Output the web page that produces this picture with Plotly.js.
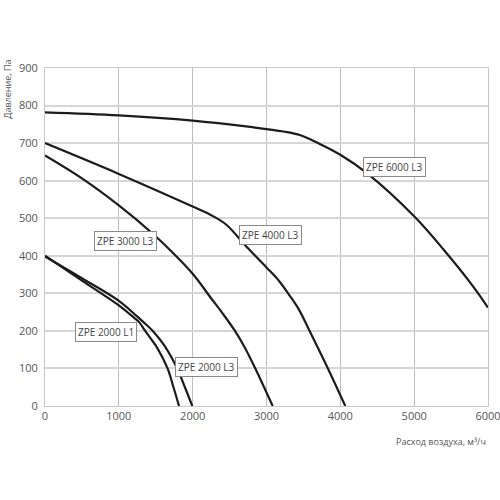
<!DOCTYPE html>
<html>
<head>
<meta charset="utf-8">
<script src="https://cdn.plot.ly/plotly-3.0.1.min.js"></script>
<style>html,body{margin:0;padding:0;background:#fff;}#chart{width:500px;height:500px;}</style>
</head>
<body>
<div id="chart"></div>
<script>
// Airflow (m³/h) and pressure (Pa) per fan model
const zpe6000L3_x = [0, 1000, 2000, 2780, 3230, 3460, 3700, 4000, 4360, 5000, 5400, 5800, 6000];
const zpe6000L3_y = [782, 774, 760, 743, 731, 721, 700, 669, 620, 505, 416, 318, 262];

const zpe4000L3_x = [0, 1000, 2000, 2280, 2460, 2730, 3000, 3170, 3300, 3430, 3584, 3832, 4067];
const zpe4000L3_y = [700, 618, 531, 505, 482, 424, 369, 333, 298, 260, 200, 100, 0];

const zpe3000L3_x = [0, 500, 1000, 1464, 1700, 2000, 2257, 2400, 2573, 2700, 2844, 3084];
const zpe3000L3_y = [667, 606, 534, 458, 414, 352, 285, 248, 200, 158, 102, 0];

const zpe2000L3_x = [0, 500, 1000, 1240, 1330, 1460, 1620, 1790, 1895, 1995];
const zpe2000L3_y = [398, 340, 280, 240, 224, 200, 160, 100, 50, 0];

const zpe2000L1_x = [0, 500, 1000, 1200, 1280, 1350, 1430, 1510, 1660, 1740, 1815];
const zpe2000L1_y = [400, 334, 268, 236, 222, 202, 180, 158, 100, 50, 0];

const labels = ["ZPE 6000 L3", "ZPE 4000 L3", "ZPE 3000 L3", "ZPE 2000 L1", "ZPE 2000 L3"];
const labelX = [4735, 3050, 1090, 825, 2190];
const labelY = [637, 455, 439, 198, 103];

const xTicks = [0, 1000, 2000, 3000, 4000, 5000, 6000];
const yTicks = [0, 100, 200, 300, 400, 500, 600, 700, 800, 900];

const series = [
  [zpe6000L3_x, zpe6000L3_y],
  [zpe4000L3_x, zpe4000L3_y],
  [zpe3000L3_x, zpe3000L3_y],
  [zpe2000L3_x, zpe2000L3_y],
  [zpe2000L1_x, zpe2000L1_y]
];

const traces = series.map(s => ({
  x: s[0], y: s[1], type: 'scatter', mode: 'lines',
  line: {color: '#1c1c1c', width: 2.2, shape: 'spline', smoothing: 1},
  hoverinfo: 'skip', showlegend: false
}));

const font = {family: 'Open Sans, DejaVu Sans, sans-serif', color: '#555', size: 11};

const annotations = labels.map((t, i) => ({
  x: labelX[i], y: labelY[i], xref: 'x', yref: 'y', text: t, showarrow: false,
  font: {family: 'Open Sans, DejaVu Sans, sans-serif', size: 10, color: '#444'},
  bgcolor: '#fff', bordercolor: '#8a8a8a', borderwidth: 1, borderpad: 2
}));

annotations.push({
  xref: 'paper', yref: 'paper', x: 1, y: -0.08, xanchor: 'right', yanchor: 'top',
  text: 'Расход воздуха, м³/ч', showarrow: false,
  font: {family: 'Open Sans, DejaVu Sans, sans-serif', size: 9, color: '#555'}
});
annotations.push({
  xref: 'paper', yref: 'paper', x: -0.085, y: 1.03, xanchor: 'center', yanchor: 'top',
  text: 'Давление, Па', showarrow: false, textangle: -90,
  font: {family: 'Open Sans, DejaVu Sans, sans-serif', size: 9, color: '#555'}
});

const layout = {
  width: 500, height: 500,
  margin: {l: 45, r: 12, t: 68, b: 94},
  paper_bgcolor: '#fff', plot_bgcolor: '#fff',
  font: font,
  xaxis: {
    range: [0, 6000], tickvals: xTicks, ticktext: xTicks.map(String),
    showgrid: true, gridcolor: '#bdbdbd', gridwidth: 1,
    zeroline: false, showline: true, linecolor: '#c8c8c8', linewidth: 1, mirror: true,
    ticks: '', tickfont: font, ticklabeloverflow: 'allow'
  },
  yaxis: {
    range: [0, 900], tickvals: yTicks, ticktext: yTicks.map(String),
    showgrid: true, gridcolor: '#d6d6d6', gridwidth: 2,
    zeroline: false, showline: true, linecolor: '#c8c8c8', linewidth: 1, mirror: true,
    ticks: '', tickfont: font, ticklabelstandoff: 4
  },
  annotations: annotations
};

Plotly.newPlot('chart', traces, layout, {staticPlot: true, displayModeBar: false});
</script>
</body>
</html>
